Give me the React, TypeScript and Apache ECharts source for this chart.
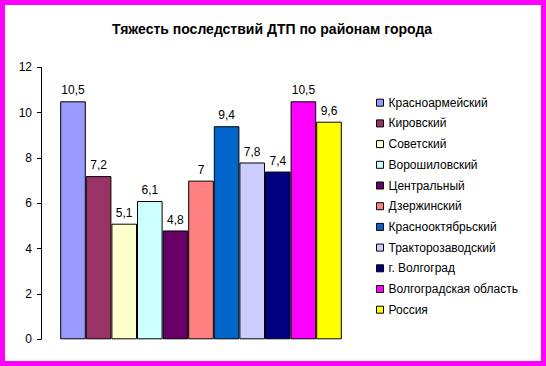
import React, { useEffect, useRef } from "react";
import * as echarts from "echarts";

const titleText = "Тяжесть последствий ДТП по районам города";
const districts = [
  "Красноармейский",
  "Кировский",
  "Советский",
  "Ворошиловский",
  "Центральный",
  "Дзержинский",
  "Краснооктябрьский",
  "Тракторозаводский",
  "г. Волгоград",
  "Волгоградская область",
  "Россия",
];
const values = [10.5, 7.2, 5.1, 6.1, 4.8, 7, 9.4, 7.8, 7.4, 10.5, 9.6];
const colors = [
  "#9999FF",
  "#993366",
  "#FFFFCC",
  "#CCFFFF",
  "#660066",
  "#FF8080",
  "#0066CC",
  "#CCCCFF",
  "#000080",
  "#FF00FF",
  "#FFFF00",
];
const yTicks = { min: 0, max: 12, interval: 2 };

const FONT = '"Liberation Sans", Arial, sans-serif';

export default function App() {
  const ref = useRef<HTMLDivElement>(null);
  useEffect(() => {
    if (!ref.current) return;
    const chart = echarts.init(ref.current, undefined, { renderer: "svg" });
    chart.setOption({
      animation: false,
      backgroundColor: "#FFFFFF",
      grid: { left: 41, right: 185, top: 67.3, bottom: 26.7, containLabel: false },
      xAxis: {
        type: "category",
        data: [""],
        axisLine: { show: false },
        axisTick: { show: false },
        axisLabel: { show: false },
        splitLine: { show: false },
      },
      yAxis: {
        type: "value",
        min: yTicks.min,
        max: yTicks.max,
        interval: yTicks.interval,
        axisLine: { show: true, lineStyle: { color: "#000", width: 1 } },
        axisTick: { show: true, length: 4, lineStyle: { color: "#000" } },
        axisLabel: { color: "#000", fontFamily: FONT, fontSize: 12, margin: 9 },
        splitLine: { show: false },
      },
      legend: {
        orient: "vertical",
        left: 376,
        top: 95.7,
        padding: 0,
        itemWidth: 7,
        itemHeight: 7,
        itemGap: 6.7,
        icon: "rect",
        itemStyle: { borderColor: "#000", borderWidth: 1 },
        textStyle: { color: "#000", fontFamily: FONT, fontSize: 12, lineHeight: 14 },
        data: districts,
      },
      graphic: [
        {
          type: "text",
          x: 272,
          y: 28.5,
          style: {
            text: titleText,
            textAlign: "center",
            textVerticalAlign: "middle",
            font: `bold 14px ${FONT}`,
            fill: "#000",
          },
        },
        {
          type: "rect",
          silent: true,
          z: 100,
          shape: { x: 2.5, y: 2.5, width: 541, height: 361 },
          style: { fill: "none", stroke: "#FF00FF", lineWidth: 5 },
        },
      ],
      series: districts.map((name, i) => ({
        name,
        type: "bar",
        data: [values[i]],
        barGap: "0%",
        barCategoryGap: "12%",
        itemStyle: { color: colors[i], borderColor: "#000", borderWidth: 1 },
        label: {
          show: true,
          position: "top",
          distance: 5,
          color: "#000",
          fontFamily: FONT,
          fontSize: 12,
          formatter: (p: any) => String(p.value).replace(".", ","),
        },
      })),
    });
    return () => chart.dispose();
  }, []);
  return (
    <div
      ref={ref}
      style={{ position: "absolute", left: 0, top: 0, width: 546, height: 366 }}
    />
  );
}
